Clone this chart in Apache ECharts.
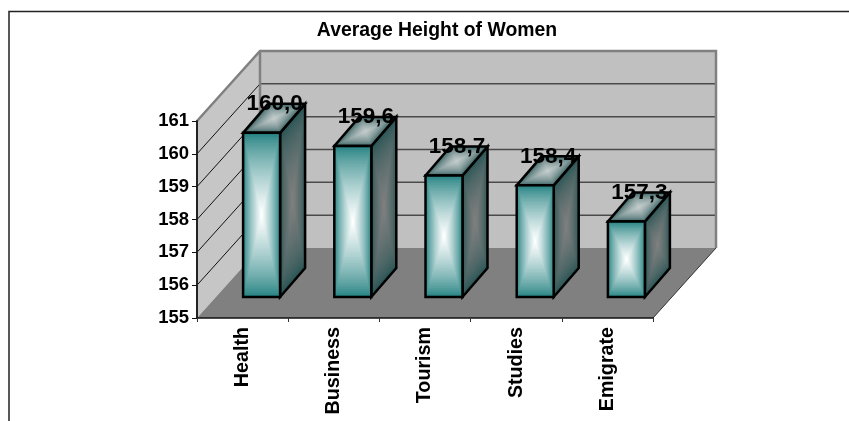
<!DOCTYPE html>
<html>
<head>
<meta charset="utf-8">
<style>html,body{margin:0;padding:0;background:#fff}#chart{width:849px;height:421px}</style>
<script src="https://cdn.jsdelivr.net/npm/echarts@6/dist/echarts.min.js"></script>
</head>
<body>
<div id="chart"></div>
<script>
const categories = ['Health', 'Business', 'Tourism', 'Studies', 'Emigrate'];
const heights = [160.0, 159.6, 158.7, 158.4, 157.3];
const yTicks = [155, 156, 157, 158, 159, 160, 161];
const chartTitle = 'Average Height of Women';

const FONT = '"Liberation Sans", Arial, sans-serif';
const WALL_DEPTH = [63, -70];      // offset of the back wall from the axis plane
const BAR_PLANE = [19, -21];       // offset of the bar front faces from the axis plane
const BAR_DEPTH = [25, -29];       // depth of each bar
const BAR_WIDTH = 37;
const STEPS = 40;

function mix(a, b, t) {
  const c = a.map((v, i) => Math.round(v + (b[i] - v) * t));
  return `rgb(${c[0]},${c[1]},${c[2]})`;
}

// A face shaded from its outline to its centre as nested, shrinking copies of the polygon.
function shadedFace(pts, edge, centre, ease) {
  const cx = pts.reduce((s, p) => s + p[0], 0) / pts.length;
  const cy = pts.reduce((s, p) => s + p[1], 0) / pts.length;
  const out = [];
  for (let i = 0; i < STEPS; i++) {
    const k = 1 - i / STEPS;
    const t = Math.pow(i / (STEPS - 1), ease);
    out.push({
      type: 'polygon',
      shape: { points: pts.map(p => [cx + (p[0] - cx) * k, cy + (p[1] - cy) * k]) },
      style: { fill: mix(edge, centre, t) },
      silent: true
    });
  }
  out.push({
    type: 'polygon',
    shape: { points: pts },
    style: { fill: 'none', stroke: '#000', lineWidth: 2.5, lineJoin: 'miter' },
    silent: true
  });
  return out;
}

// Back wall, side wall, floor and the gridlines running across both walls.
function renderBox(params, api) {
  const cs = params.coordSys;
  const L = cs.x, R = cs.x + cs.width;
  const y0 = api.coord([0, yTicks[0]])[1];
  const y1 = api.coord([0, yTicks[yTicks.length - 1]])[1];
  const [dx, dy] = WALL_DEPTH;
  const edge = '#808080';
  const children = [
    { type: 'polygon', shape: { points: [[L + dx, y1 + dy], [R + dx, y1 + dy], [R + dx, y0 + dy], [L + dx, y0 + dy]] },
      style: { fill: '#c0c0c0' }, silent: true },
    { type: 'polygon', shape: { points: [[L, y1], [L + dx, y1 + dy], [L + dx, y0 + dy], [L, y0]] },
      style: { fill: '#c6c6c6' }, silent: true },
    { type: 'polygon', shape: { points: [[L, y0], [R, y0], [R + dx, y0 + dy], [L + dx, y0 + dy]] },
      style: { fill: '#808080' }, silent: true }
  ];
  yTicks.slice(1, -1).forEach(v => {
    const y = api.coord([0, v])[1];
    children.push({ type: 'polyline', shape: { points: [[L, y], [L + dx, y + dy]] },
      style: { fill: 'none', stroke: '#111', lineWidth: 1 }, silent: true });
    children.push({ type: 'line', shape: { x1: L + dx, y1: y + dy, x2: R + dx, y2: y + dy },
      style: { stroke: '#4a4a4a', lineWidth: 1.5 }, silent: true });
  });
  children.push({ type: 'polyline', shape: { points: [[L, y1], [L + dx, y1 + dy], [R + dx, y1 + dy], [R + dx, y0 + dy]] },
    style: { fill: 'none', stroke: edge, lineWidth: 2.5 }, silent: true });
  children.push({ type: 'line', shape: { x1: L + dx, y1: y1 + dy, x2: L + dx, y2: y0 + dy },
    style: { stroke: edge, lineWidth: 2.5 }, silent: true });
  children.push({ type: 'line', shape: { x1: R, y1: y0, x2: R + dx, y2: y0 + dy },
    style: { stroke: '#333', lineWidth: 1 }, silent: true });
  return { type: 'group', children };
}

// One prism: front, side and top faces, placed through the axis scales.
function renderBar(params, api) {
  const top = api.coord([api.value(0), api.value(1)]);
  const base = api.coord([api.value(0), yTicks[0]]);
  const xL = top[0] + BAR_PLANE[0] - BAR_WIDTH / 2;
  const xR = xL + BAR_WIDTH;
  const yT = top[1] + BAR_PLANE[1];
  const yB = base[1] + BAR_PLANE[1];
  const [dx, dy] = BAR_DEPTH;
  const teal = [34, 128, 128], white = [255, 255, 255];
  const front = [[xL, yT], [xR, yT], [xR, yB], [xL, yB]];
  const side = [[xR, yT], [xR + dx, yT + dy], [xR + dx, yB + dy], [xR, yB]];
  const lid = [[xL, yT], [xR, yT], [xR + dx, yT + dy], [xL + dx, yT + dy]];
  return {
    type: 'group',
    children: [
      ...shadedFace(side, [36, 82, 82], [128, 128, 128], 0.6),
      ...shadedFace(lid, [36, 82, 82], [196, 204, 204], 0.55),
      ...shadedFace(front, teal, white, 0.75)
    ]
  };
}

// Value labels sit in their own series so that they stay above every prism.
function renderLabel(params, api) {
  const top = api.coord([api.value(0), api.value(1)]);
  return {
    type: 'text',
    silent: true,
    style: {
      x: top[0] + BAR_PLANE[0] + 13,
      y: top[1] + BAR_PLANE[1] + BAR_DEPTH[1],
      text: api.value(1).toFixed(1).replace('.', ','),
      font: `bold 22.5px ${FONT}`,
      fill: '#000',
      align: 'center',
      verticalAlign: 'middle'
    }
  };
}

const barData = categories.map((_, i) => [i, heights[i]]);

const chart = echarts.init(document.getElementById('chart'), null, { renderer: 'canvas' });
chart.setOption({
  animation: false,
  backgroundColor: '#fff',
  title: {
    text: chartTitle,
    left: 437, top: 21,
    textAlign: 'center',
    textStyle: { fontFamily: FONT, fontWeight: 'bold', fontSize: 19.4, color: '#000' },
    padding: 0
  },
  graphic: [{
    type: 'polyline',
    silent: true,
    shape: { points: [[9, 421], [9, 11.5], [849, 11.5]] },
    style: { fill: 'none', stroke: '#222', lineWidth: 1.5 }
  }],
  grid: { left: 197, top: 121, width: 456, height: 197 },
  xAxis: {
    type: 'category',
    data: categories,
    axisTick: { show: true, length: 4, alignWithLabel: false, lineStyle: { color: '#333' } },
    axisLine: { lineStyle: { color: '#111', width: 1.5 } },
    axisLabel: { rotate: 90, interval: 0, margin: 9, fontFamily: FONT, fontWeight: 'bold', fontSize: 19.7, color: '#000' },
    splitLine: { show: false },
    z: 5
  },
  yAxis: {
    type: 'value',
    min: 155, max: 161, interval: 1,
    axisLine: { show: true, lineStyle: { color: '#222', width: 2 } },
    axisTick: { show: true, length: 5, lineStyle: { color: '#111' } },
    axisLabel: { margin: 8, fontFamily: FONT, fontWeight: 'bold', fontSize: 18.5, color: '#000' },
    splitLine: { show: false },
    z: 5
  },
  series: [
    { type: 'custom', coordinateSystem: 'cartesian2d', renderItem: renderBox, data: [[0, 155]], silent: true, z: 1, clip: false },
    { type: 'custom', coordinateSystem: 'cartesian2d', renderItem: renderBar, data: barData, encode: { x: 0, y: 1 }, z: 2, clip: false },
    { type: 'custom', coordinateSystem: 'cartesian2d', renderItem: renderLabel, data: barData, encode: { x: 0, y: 1 }, z: 6, clip: false }
  ]
});
</script>
</body>
</html>
